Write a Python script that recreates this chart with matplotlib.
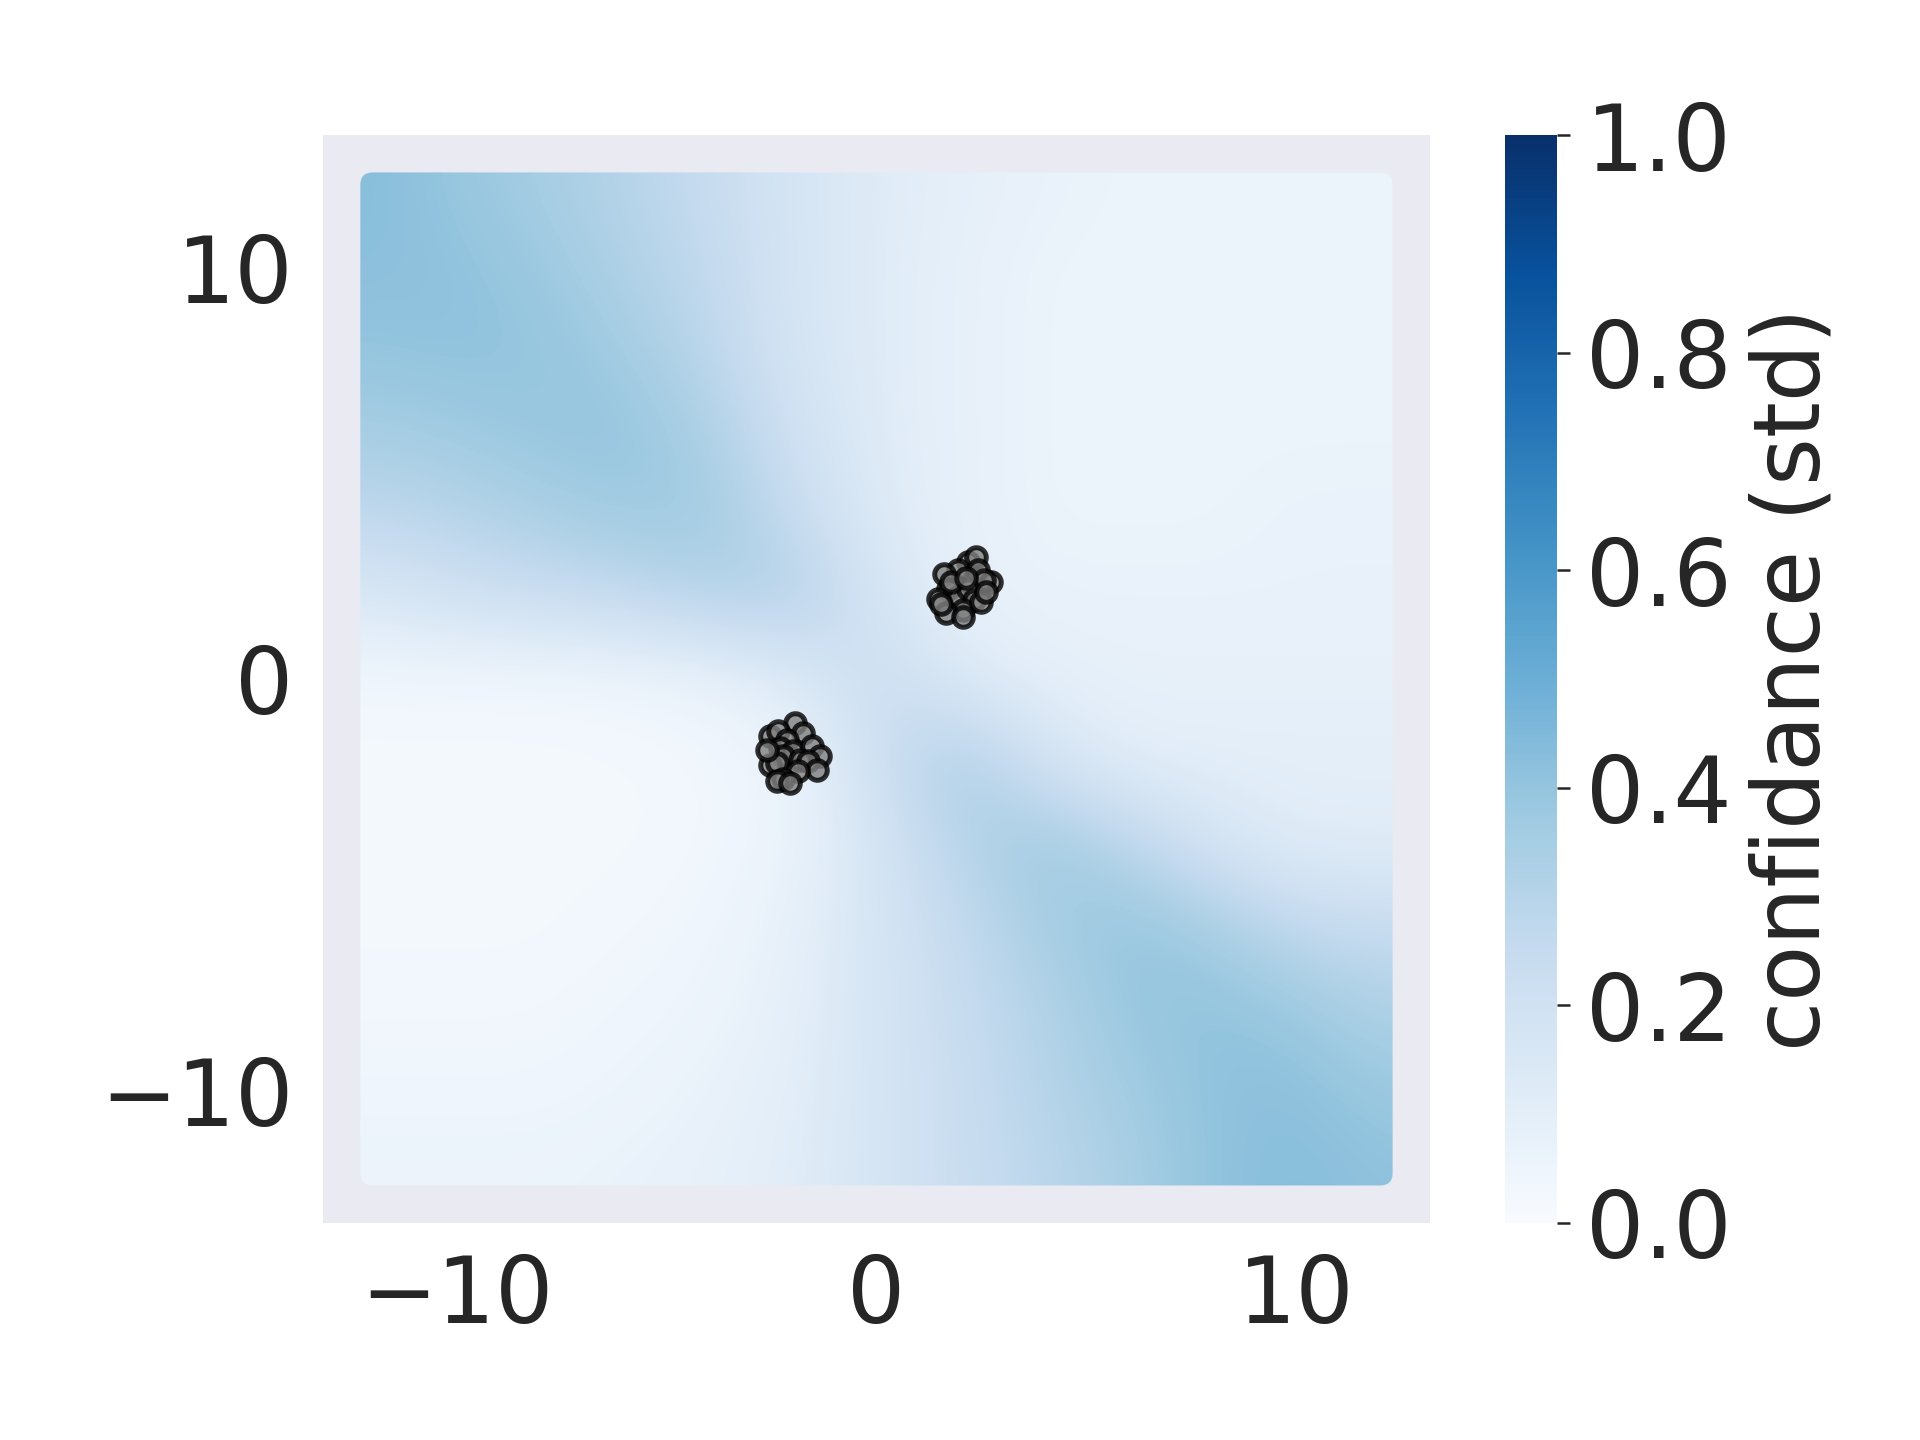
import numpy as np
import matplotlib
matplotlib.use("Agg")
import matplotlib.pyplot as plt
from matplotlib.patches import FancyBboxPatch

# grid of std values, x and y from -12 to 12 step 2
grid_x = [-12, -10, -8, -6, -4, -2, 0, 2, 4, 6, 8, 10, 12]
grid_y = [12, 10, 8, 6, 4, 2, 0, -2, -4, -6, -8, -10, -12]
std_rows = [
    [0.43, 0.39, 0.35, 0.30, 0.24, 0.17, 0.12, 0.09, 0.07, 0.06, 0.06, 0.06, 0.06],
    [0.42, 0.41, 0.38, 0.32, 0.26, 0.17, 0.12, 0.08, 0.06, 0.06, 0.06, 0.06, 0.06],
    [0.40, 0.41, 0.40, 0.36, 0.28, 0.17, 0.12, 0.08, 0.06, 0.06, 0.06, 0.06, 0.06],
    [0.35, 0.37, 0.39, 0.40, 0.33, 0.20, 0.12, 0.08, 0.06, 0.06, 0.06, 0.06, 0.06],
    [0.27, 0.30, 0.34, 0.37, 0.37, 0.24, 0.13, 0.08, 0.06, 0.06, 0.06, 0.07, 0.07],
    [0.15, 0.20, 0.23, 0.26, 0.31, 0.33, 0.17, 0.08, 0.07, 0.07, 0.07, 0.07, 0.07],
    [0.03, 0.03, 0.03, 0.04, 0.06, 0.12, 0.24, 0.13, 0.09, 0.08, 0.08, 0.08, 0.08],
    [0.02, 0.02, 0.02, 0.02, 0.03, 0.05, 0.21, 0.35, 0.18, 0.10, 0.10, 0.10, 0.10],
    [0.02, 0.02, 0.02, 0.02, 0.03, 0.06, 0.17, 0.30, 0.38, 0.29, 0.17, 0.11, 0.11],
    [0.02, 0.02, 0.02, 0.03, 0.04, 0.08, 0.17, 0.25, 0.35, 0.40, 0.35, 0.26, 0.24],
    [0.03, 0.03, 0.03, 0.04, 0.05, 0.09, 0.17, 0.24, 0.31, 0.39, 0.41, 0.38, 0.32],
    [0.04, 0.04, 0.04, 0.05, 0.07, 0.10, 0.17, 0.23, 0.30, 0.36, 0.41, 0.42, 0.38],
    [0.06, 0.06, 0.06, 0.07, 0.08, 0.11, 0.17, 0.23, 0.28, 0.34, 0.41, 0.43, 0.41],
]

# training points, two blobs
blob_x = [2.18, 2.37, 1.94, 2.41, 1.62, 2.73, 2.57, 1.70, 1.46, 1.94,
          2.18, 2.33, 2.06, 1.66, 1.54, 2.49, 2.61, 1.78, 2.14, 2.06,
          -1.94, -1.74, -2.53, -2.34, -2.14, -2.30, -1.98, -2.22, -1.54, -1.35,
          -2.53, -2.37, -1.82, -1.62, -1.42, -1.86, -2.22, -2.37, -2.06, -2.61]
blob_y = [2.84, 2.96, 2.64, 2.64, 2.56, 2.36, 2.40, 2.19, 1.95, 1.99,
          2.19, 1.91, 1.67, 1.59, 1.83, 1.87, 2.11, 2.36, 2.44, 1.51,
          -1.07, -1.31, -1.39, -1.27, -1.48, -1.68, -1.76, -1.88, -1.64, -1.88,
          -2.08, -2.04, -1.96, -2.00, -2.20, -2.24, -2.44, -2.48, -2.52, -1.72]

txt = "#262626"
plt.rcParams['font.family'] = ['DejaVu Sans']
plt.rcParams['font.size'] = 22

fig = plt.figure(figsize=(6.4, 4.8), dpi=300)
ax = fig.add_axes([0.168, 0.151, 0.577, 0.755])
ax.set_facecolor("#EAEAF2")
for s in ax.spines.values():
    s.set_visible(False)

step = grid_x[1] - grid_x[0]
ext = [grid_x[0] - step / 2, grid_x[-1] + step / 2, grid_y[-1] - step / 2, grid_y[0] + step / 2]
im = ax.imshow(np.array(std_rows), cmap="Blues", vmin=0, vmax=1, extent=ext,
               interpolation="bicubic", origin="upper", aspect="auto", zorder=1)
r = 12.3
clip = FancyBboxPatch((-r, -r), 2 * r, 2 * r, boxstyle="round,pad=0,rounding_size=0.3",
                      transform=ax.transData, facecolor="none", edgecolor="none")
ax.add_patch(clip)
im.set_clip_path(clip)

ax.scatter(blob_x, blob_y, s=22, c="gray", edgecolors="black", linewidths=1.2,
           alpha=0.8, zorder=3)

ax.set_xlim(-13.2, 13.2)
ax.set_ylim(-13.2, 13.2)
ax.set_xticks([-10, 0, 10])
ax.set_yticks([-10, 0, 10])
ax.tick_params(length=0, pad=7, colors=txt, labelsize=22)

cax = fig.add_axes([0.784, 0.151, 0.027, 0.755])
cb = fig.colorbar(im, cax=cax)
cb.outline.set_visible(False)
cb.set_ticks([0.0, 0.2, 0.4, 0.6, 0.8, 1.0])
cb.ax.tick_params(length=3, width=0.6, colors=txt, labelsize=22, pad=4)
cb.set_label("confidance (std)", color=txt, fontsize=22, labelpad=4)

fig.savefig("out.png", dpi=300)
